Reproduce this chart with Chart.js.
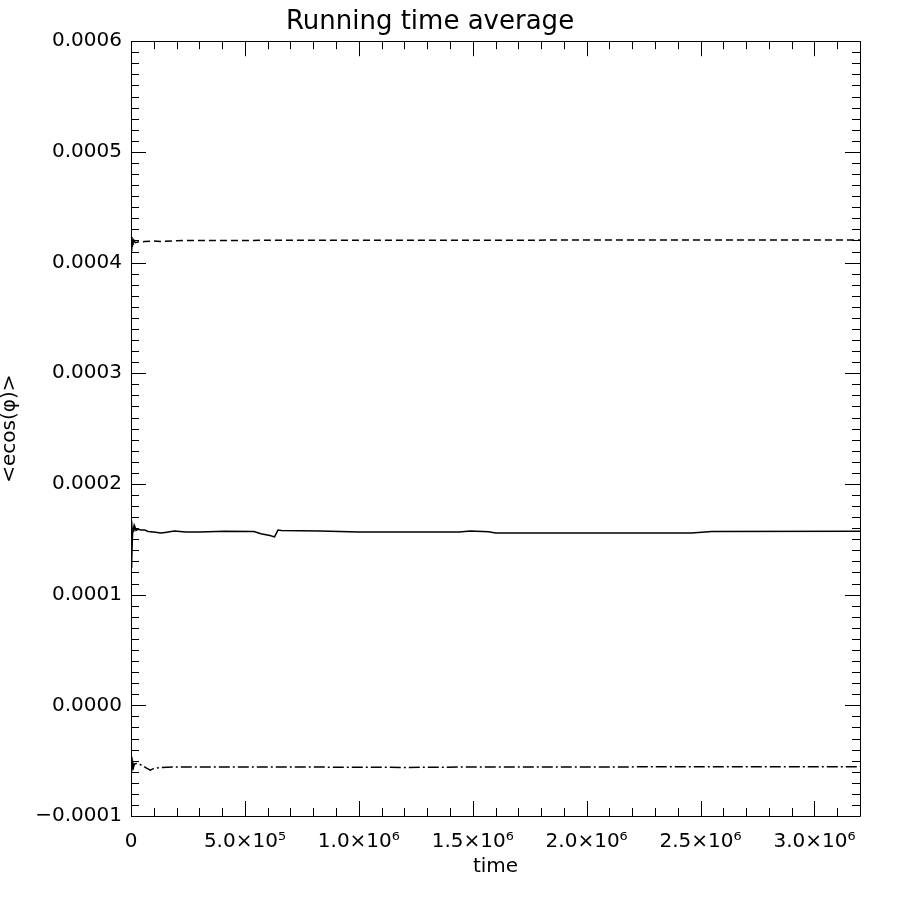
<!DOCTYPE html>
<html>
<head>
<meta charset="utf-8">
<title>Running time average</title>
<script src="https://cdn.jsdelivr.net/npm/chart.js@4"></script>
<style>
  body { margin: 0; background: #fff; }
  #wrap { width: 900px; height: 900px; }
</style>
</head>
<body>
<div id="wrap"><canvas id="myChart" width="900" height="900"></canvas></div>
<script>
// running time averages of <ecos(phi)>
var solidTime = [0, 2e3, 4e3, 6e3, 9e3, 1.2e4, 1.6e4, 2.2e4, 3e4, 4.5e4, 6e4, 7.5e4, 1e5, 1.3e5, 1.5e5, 1.9e5,
    2.4e5, 3e5, 4.1e5, 5.4e5, 5.7e5, 6.1e5, 6.3e5, 6.45e5, 6.6e5, 8.3e5, 1e6, 1.44e6, 1.49e6, 1.57e6, 1.6e6,
    2e6, 2.46e6, 2.55e6, 3.2e6];
var solidValues = [0.000125, 0.000142, 0.000130, 0.000151, 0.000161, 0.000157, 0.000162, 0.000158, 0.000159,
    0.0001585, 0.0001585, 0.000157, 0.0001565, 0.0001556, 0.0001562, 0.0001574, 0.0001566, 0.0001565,
    0.0001572, 0.000157, 0.000155, 0.0001535, 0.0001522, 0.0001583, 0.000158, 0.0001575, 0.0001565,
    0.0001565, 0.0001575, 0.0001568, 0.0001557, 0.0001556, 0.0001556, 0.000157, 0.0001572];

var dashTime = [0, 1.5e3, 3e3, 4.5e3, 6e3, 8e3, 1e4, 1.3e4, 1.8e4, 3e4, 6e4, 1e5, 1.3e5, 2e5, 4e5, 1e6, 2e6,
    2.6e6, 3.2e6];
var dashValues = [0.000418, 0.000425, 0.000410, 0.000423, 0.000414, 0.000421, 0.000416, 0.000420, 0.000418,
    0.0004185, 0.000419, 0.0004195, 0.000419, 0.0004198, 0.00042, 0.0004202, 0.0004203, 0.0004205, 0.0004205];

var dotTime = [0, 1.5e3, 3e3, 4.5e3, 6e3, 8e3, 1.1e4, 1.5e4, 2.5e4, 4e4, 5.5e4, 7e4, 8.5e4, 1e5, 1.3e5, 2e5,
    4e5, 8e5, 1.2e6, 1.5e6, 3.2e6];
var dotValues = [-0.000056, -0.000045, -0.00006, -0.00005, -0.000059, -0.000052, -0.000056, -0.000053,
    -0.0000525, -0.0000535, -0.000055, -0.000057, -0.0000585, -0.000057, -0.0000562, -0.0000557, -0.0000557,
    -0.0000558, -0.0000561, -0.0000557, -0.0000555];

var xTicks = [0, 5e5, 1e6, 1.5e6, 2e6, 2.5e6, 3e6];
var yTicks = [-0.0001, 0, 0.0001, 0.0002, 0.0003, 0.0004, 0.0005, 0.0006];

function pairs(t, v) {
    return t.map(function (x, i) { return {x: x, y: v[i]}; });
}

var sup = {'0': '⁰', '1': '¹', '2': '²', '3': '³', '4': '⁴', '5': '⁵', '6': '⁶', '7': '⁷', '8': '⁸', '9': '⁹'};
function sciLabel(v) {
    if (v === 0) return '0';
    var e = Math.floor(Math.log10(v) + 1e-9);
    var m = v / Math.pow(10, e);
    return m.toFixed(1) + '×10' + String(e).split('').map(function (c) { return sup[c]; }).join('');
}

// IDL style frame: box on all four sides with inward major and minor ticks
var frame = {
    id: 'frame',
    afterDraw: function (chart) {
        var c = chart.ctx, a = chart.chartArea;
        var xs = chart.scales.x, ys = chart.scales.y;
        c.save();
        c.strokeStyle = '#000';
        c.lineWidth = 1;
        c.beginPath();
        c.rect(Math.round(a.left) + 0.5, Math.round(a.top) + 0.5,
            Math.round(a.right - a.left), Math.round(a.bottom - a.top));
        for (var i = 0; i <= 32; i++) {
            var px = Math.round(xs.getPixelForValue(i * 1e5)) + 0.5;
            var len = i % 5 === 0 ? 15 : 8;
            c.moveTo(px, a.bottom); c.lineTo(px, a.bottom - len);
            c.moveTo(px, a.top); c.lineTo(px, a.top + len);
        }
        for (var j = -10; j <= 60; j++) {
            var py = Math.round(ys.getPixelForValue(j * 1e-5)) + 0.5;
            var l2 = j % 10 === 0 ? 15 : 8;
            c.moveTo(a.left, py); c.lineTo(a.left + l2, py);
            c.moveTo(a.right, py); c.lineTo(a.right - l2, py);
        }
        c.stroke();
        c.restore();
    }
};

Chart.defaults.font.family = 'DejaVu Sans';
Chart.defaults.color = '#000';

var ctx = document.getElementById('myChart').getContext('2d');
var myChart = new Chart(ctx, {
    type: 'line',
    data: {
        datasets: [{
            label: 'dashed',
            data: pairs(dashTime, dashValues),
            borderColor: '#000',
            borderWidth: 1.5,
            borderDash: [7, 4],
            pointRadius: 0,
            tension: 0
        }, {
            label: 'solid',
            data: pairs(solidTime, solidValues),
            borderColor: '#000',
            borderWidth: 1.5,
            pointRadius: 0,
            tension: 0
        }, {
            label: 'dash dot',
            data: pairs(dotTime, dotValues),
            borderColor: '#000',
            borderWidth: 1.5,
            borderDash: [11, 3, 2, 3],
            pointRadius: 0,
            tension: 0
        }]
    },
    options: {
        responsive: false,
        animation: false,
        layout: {padding: {left: 0, right: 40, top: 0, bottom: 0}},
        plugins: {
            legend: {display: false},
            tooltip: {enabled: false},
            title: {
                display: true,
                text: 'Running time average',
                font: {size: 26, weight: 'normal', lineHeight: 1.2},
                color: '#000',
                padding: {top: 7, bottom: 3}
            }
        },
        scales: {
            x: {
                type: 'linear',
                min: 0,
                max: 3.2e6,
                grid: {display: false, drawTicks: false},
                border: {display: false},
                afterBuildTicks: function (s) {
                    s.ticks = xTicks.map(function (v) { return {value: v}; });
                },
                afterFit: function (s) { s.height = 84; },
                ticks: {
                    autoSkip: false,
                    maxRotation: 0,
                    padding: 14,
                    font: {size: 20},
                    callback: function (v) { return sciLabel(v); }
                },
                title: {
                    display: true,
                    text: 'time',
                    font: {size: 20},
                    padding: {top: 0, bottom: 21}
                }
            },
            y: {
                type: 'linear',
                min: -0.0001,
                max: 0.0006,
                grid: {display: false, drawTicks: false},
                border: {display: false},
                afterBuildTicks: function (s) {
                    s.ticks = yTicks.map(function (v) { return {value: v}; });
                },
                afterFit: function (s) { s.width = 131; },
                ticks: {
                    padding: 9,
                    font: {size: 20},
                    callback: function (v) {
                        if (Math.abs(v) < 1e-12) return '0.0000';
                        return v < 0 ? '−' + Math.abs(v).toFixed(4) : v.toFixed(4);
                    }
                },
                title: {
                    display: true,
                    text: '<ecos(φ)>',
                    font: {size: 20, lineHeight: 1},
                    padding: {top: 0, bottom: 0}
                }
            }
        }
    },
    plugins: [frame]
});
</script>
</body>
</html>
